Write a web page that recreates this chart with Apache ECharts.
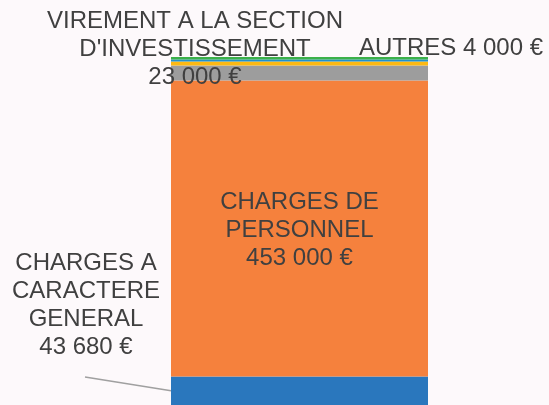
<!DOCTYPE html>
<html>
<head>
<meta charset="utf-8">
<script src="https://cdn.jsdelivr.net/npm/echarts@6/dist/echarts.min.js"></script>
<style>
  html, body { margin: 0; padding: 0; background: #fdf9fb; }
  #main { width: 549px; height: 405px; }
</style>
</head>
<body>
<div id="main"></div>
<script>
var categories = ['Fonctionnement'];
var segNames = ['CHARGES A\nCARACTERE\nGENERAL', 'CHARGES DE\nPERSONNEL', 'VIREMENT A LA SECTION\nD\'INVESTISSEMENT', 'SUBVENTIONS', 'CHARGES FINANCIERES', 'AUTRES'];
var segValues = [43680, 453000, 23000, 6000, 3000, 4000];
var segColors = ['#2a77bd', '#f5813d', '#9d9d9d', '#fdb913', '#1f91cf', '#3cb04a'];
// position des étiquettes (null = dans la barre)
var labelPos = [
    { x: 86, y: 305 },
    null,
    { x: 195, y: 49 },
    'none',
    'none',
    { x: 451, y: 48 }
];

var total = segValues.reduce(function (a, b) { return a + b; }, 0);

function euro(v) {
    return String(v).replace(/\B(?=(\d{3})+(?!\d))/g, ' ') + ' €';
}

var myChart = echarts.init(document.getElementById('main'));

var series = segNames.map(function (name, i) {
    var pos = labelPos[i];
    var s = {
        name: name,
        type: 'bar',
        stack: 'total',
        barWidth: '100%',
        data: [segValues[i]],
        itemStyle: { color: segColors[i] },
        label: {
            show: pos !== 'none',
            position: 'inside',
            offset: [0, 2],
            color: '#404040',
            fontFamily: 'Liberation Sans',
            fontSize: 24,
            lineHeight: 28,
            align: 'center',
            formatter: function () {
                return i === 5 ? name + ' ' + euro(segValues[i]) : name + '\n' + euro(segValues[i]);
            }
        }
    };
    if (pos && pos !== 'none') {
        s.labelLayout = { x: pos.x, y: pos.y, align: 'center', verticalAlign: 'middle' };
    }
    return s;
});

myChart.setOption({
    backgroundColor: '#fdf9fb',
    animation: false,
    grid: { left: 171, right: 121, top: 57, bottom: -2 },
    xAxis: { type: 'category', data: categories, show: false },
    yAxis: { type: 'value', min: 0, max: total, show: false },
    series: series
});

// trait de rappel vers le segment du bas
var mid = myChart.convertToPixel({ gridIndex: 0 }, [categories[0], segValues[0] / 2]);
myChart.setOption({
    graphic: [{
        type: 'line',
        shape: { x1: 85, y1: 377, x2: 171, y2: mid[1] },
        style: { stroke: '#a0a0a0', lineWidth: 1.5 }
    }]
});
</script>
</body>
</html>
